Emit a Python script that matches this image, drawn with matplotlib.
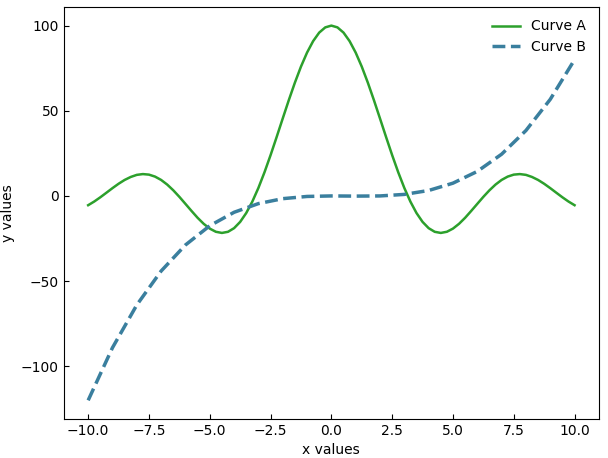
import matplotlib
matplotlib.use("Agg")
import matplotlib.pyplot as plt

xa_half = [i * 0.25 for i in range(0, 41)]
ya_half = [100, 98.96, 95.89, 90.88, 84.15, 75.92, 66.50, 56.23, 45.46, 34.58,
           23.94, 13.88, 4.70, -3.33, -10.02, -15.24, -18.92, -21.06, -21.72, -21.04,
           -19.18, -16.36, -12.83, -8.81, -4.66, -0.53, 3.31, 6.67, 9.39, 11.35,
           12.51, 12.83, 12.37, 11.14, 9.39, 7.14, 4.58, 1.88, -0.79, -3.28, -5.44]
xa = [-v for v in xa_half[:0:-1]] + xa_half
ya = ya_half[:0:-1] + ya_half

xb = list(range(-10, 11))
yb = [-120, -89.1, -64, -44.1, -28.8, -17.5, -9.6, -4.5, -1.6, -0.3, 0,
      -0.1, 0, 0.9, 3.2, 7.5, 14.4, 24.5, 38.4, 56.7, 80]

fig, ax = plt.subplots(figsize=(6.08, 4.58), dpi=100)
ax.plot(xa, ya, color="#2ca02c", lw=1.8, label="Curve A")
ax.plot(xb, yb, color="#3a7f9e", lw=2.5, ls="--", label="Curve B")
ax.set_xlabel("x values")
ax.set_ylabel("y values")
ax.tick_params(direction="in")
ax.legend(frameon=False, loc="upper right")
fig.subplots_adjust(left=0.105, right=0.985, top=0.985, bottom=0.085)
fig.savefig("out.png")
